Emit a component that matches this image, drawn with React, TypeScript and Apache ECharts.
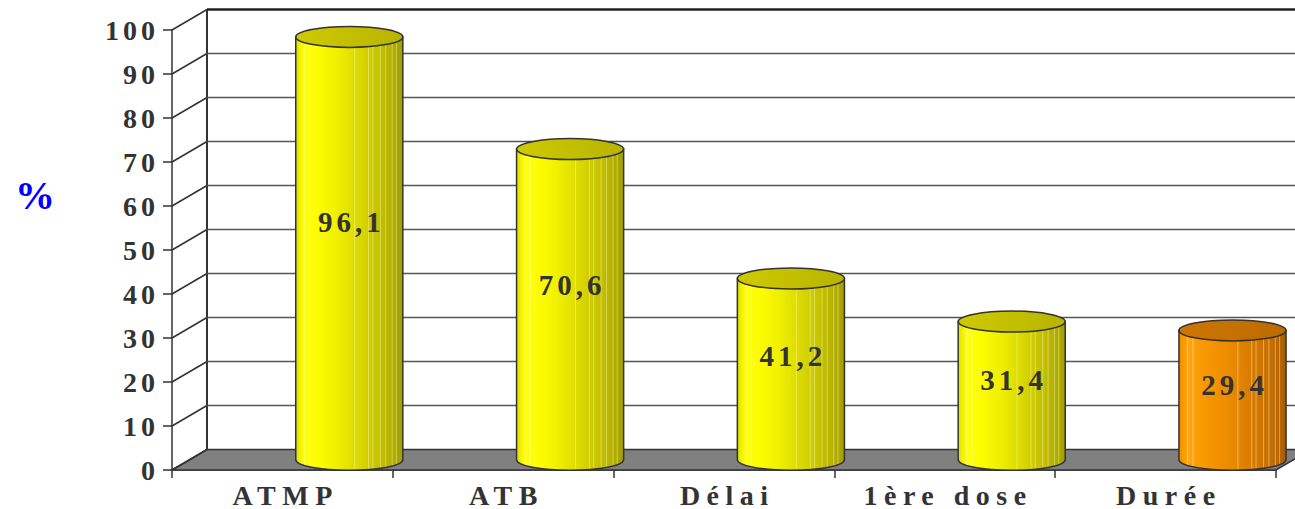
import React, { useEffect, useRef } from "react";
import * as echarts from "echarts";

// ---- data ----
const categories = ["ATMP", "ATB", "Délai", "1ère dose", "Durée"];
const values = [96.1, 70.6, 41.2, 31.4, 29.4];
const accent = [false, false, false, false, true]; // last bar is orange
const yTicks = [0, 10, 20, 30, 40, 50, 60, 70, 80, 90, 100];
const yAxisName = "%";

// ---- 3D look ----
const DX = 35;
const DY = -20.5;
const BAR_SHIFT = 0.303; // fraction of band
const BAR_WIDTH = 0.485; // fraction of band
const RY = 10.5;
const SERIF = '"Liberation Serif", "Times New Roman", serif';

const yellowStops = [
  { offset: 0, color: "#DCDC00" },
  { offset: 0.04, color: "#F2F200" },
  { offset: 0.09, color: "#FFFF10" },
  { offset: 0.22, color: "#FCFC00" },
  { offset: 0.38, color: "#F0F000" },
  { offset: 0.5, color: "#E4E200" },
  { offset: 0.6, color: "#DAD800" },
  { offset: 0.7, color: "#CECB00" },
  { offset: 0.8, color: "#C2BE00" },
  { offset: 0.9, color: "#B4B000" },
  { offset: 1, color: "#A29E00" },
];
const orangeStops = [
  { offset: 0, color: "#EE8E00" },
  { offset: 0.04, color: "#FA9A00" },
  { offset: 0.09, color: "#FFA414" },
  { offset: 0.25, color: "#F89800" },
  { offset: 0.45, color: "#EC8C00" },
  { offset: 0.6, color: "#E08200" },
  { offset: 0.75, color: "#D07600" },
  { offset: 0.9, color: "#C06A00" },
  { offset: 1, color: "#A85C00" },
];
const stripeFractions = [0.08, 0.13, 0.55, 0.68, 0.72, 0.79, 0.84, 0.9, 0.94];

const barLabelText = (v: number) => String(v).replace(".", ",");

export default function App() {
  const ref = useRef<HTMLDivElement>(null);

  useEffect(() => {
    document.body.style.margin = "0";
    const chart = echarts.init(ref.current!, null, { renderer: "svg" });
    const yMax = yTicks[yTicks.length - 1];

    const wallSeries = {
      type: "custom",
      z: 1,
      silent: true,
      data: yTicks.map((t) => [0, t]),
      renderItem: (params: any, api: any) => {
        const cs = params.coordSys;
        const t = api.value(1);
        const y = api.coord([0, t])[1];
        const x0 = cs.x;
        const x1 = cs.x + cs.width;
        const children: any[] = [];
        if (params.dataIndex === 0) {
          children.push({
            type: "polygon",
            shape: {
              points: [
                [x0, y],
                [x1, y],
                [x1 + DX, y + DY],
                [x0 + DX, y + DY],
              ],
            },
            style: { fill: "#808080", stroke: "#333", lineWidth: 1.5 },
          });
          const top = api.coord([0, yMax])[1];
          children.push({
            type: "line",
            shape: { x1: x0 + DX, y1: y + DY, x2: x0 + DX, y2: top + DY },
            style: { stroke: "#333", lineWidth: 2 },
          });
        }
        children.push({
          type: "line",
          shape: { x1: x0, y1: y, x2: x0 + DX, y2: y + DY },
          style: { stroke: "#333", lineWidth: 1.5 },
        });
        if (t > 0) {
          const isTop = t === yMax;
          children.push({
            type: "line",
            shape: { x1: x0 + DX, y1: y + DY, x2: x1 + DX + 60, y2: y + DY },
            style: { stroke: isTop ? "#222" : "#555", lineWidth: isTop ? 2.5 : 1.5 },
          });
        }
        return { type: "group", children };
      },
    };

    const barSeries = {
      type: "custom",
      z: 3,
      silent: true,
      data: values.map((v, i) => [i, v]),
      renderItem: (params: any, api: any) => {
        const i = api.value(0);
        const v = api.value(1);
        const base = api.coord([i, 0]);
        const topP = api.coord([i, v]);
        const band = api.size([1, 0])[0];
        const cx = base[0] + band * BAR_SHIFT;
        const rx = (band * BAR_WIDTH) / 2;
        const by = base[1] + DY / 2;
        const ty = topP[1] + DY / 2;
        const isAccent = accent[i];
        const stops = isAccent ? orangeStops : yellowStops;
        const children: any[] = [];
        children.push({
          type: "path",
          shape: {
            pathData: `M ${cx - rx} ${ty} L ${cx - rx} ${by} A ${rx} ${RY} 0 0 0 ${cx + rx} ${by} L ${cx + rx} ${ty} Z`,
          },
          style: {
            fill: new echarts.graphic.LinearGradient(0, 0, 1, 0, stops),
            stroke: "#333",
            lineWidth: 1.5,
          },
        });
        stripeFractions.forEach((f) => {
          const sx = cx - rx + f * 2 * rx;
          const dyArc = RY * Math.sqrt(Math.max(0, 1 - Math.pow((sx - cx) / rx, 2)));
          children.push({
            type: "line",
            shape: { x1: sx, y1: ty, x2: sx, y2: by + dyArc - 1 },
            style: { stroke: "rgba(255,255,210,0.4)", lineWidth: 1 },
          });
        });
        children.push({
          type: "ellipse",
          shape: { cx, cy: ty, rx, ry: RY },
          style: {
            fill: new echarts.graphic.LinearGradient(0, 0, 1, 0, isAccent
              ? [
                  { offset: 0, color: "#CE7600" },
                  { offset: 1, color: "#BC6A00" },
                ]
              : [
                  { offset: 0, color: "#CECA00" },
                  { offset: 1, color: "#B8B400" },
                ]),
            stroke: "#333",
            lineWidth: 1.5,
          },
        });
        const ly = api.coord([i, v * 0.555])[1] - 13;
        children.push({
          type: "text",
          style: {
            text: barLabelText(v),
            x: cx,
            y: ly,
            align: "center",
            verticalAlign: "middle",
            font: `bold 29px ${SERIF}`,
            fill: "#333",
          },
        });
        return { type: "group", children };
      },
    };

    chart.setOption({
      animation: false,
      grid: { left: 172, top: 30, width: 1104, height: 440, containLabel: false },
      xAxis: {
        type: "category",
        data: categories,
        boundaryGap: true,
        axisLine: { show: true, lineStyle: { color: "#333", width: 1.5 } },
        axisTick: { show: true, length: 8, lineStyle: { color: "#333", width: 1.5 } },
        axisLabel: {
          fontFamily: SERIF,
          fontWeight: "bold",
          fontSize: 28,
          color: "#333",
          margin: 11,
        },
        splitLine: { show: false },
      },
      yAxis: {
        type: "value",
        min: 0,
        max: yMax,
        interval: 10,
        axisLine: { show: true, lineStyle: { color: "#333", width: 1.5 } },
        axisTick: { show: true, length: 9, lineStyle: { color: "#333", width: 1.5 } },
        axisLabel: {
          fontFamily: SERIF,
          fontWeight: "bold",
          fontSize: 28,
          color: "#333",
          margin: 17,
        },
        splitLine: { show: false },
      },
      graphic: [
        {
          type: "text",
          left: 15,
          top: 175,
          style: {
            text: yAxisName,
            font: `bold 40px ${SERIF}`,
            fill: "#0000FF",
          },
        },
      ],
      series: [wallSeries, barSeries],
    });

    // Widen letter spacing like the original (text stays intact)
    const catSet = new Set(categories);
    const tickSet = new Set(yTicks.map(String));
    const barSet = new Set(values.map(barLabelText));
    const applySpacing = () => {
      const root = ref.current;
      if (!root) return;
      root.querySelectorAll("text").forEach((el) => {
        const s = (el.textContent || "").trim();
        let sp = 0;
        if (catSet.has(s)) sp = 6.5;
        else if (barSet.has(s)) sp = 4;
        else if (tickSet.has(s)) sp = 4;
        if (!sp) return;
        el.setAttribute("letter-spacing", sp + "px");
        const anchor = el.getAttribute("text-anchor") || "";
        const styleAnchor = (el.getAttribute("style") || "").includes("end");
        if (anchor === "middle") el.setAttribute("dx", String(sp / 2));
        else if (anchor === "end" || styleAnchor) el.setAttribute("dx", String(sp));
      });
    };
    applySpacing();
    chart.on("finished", applySpacing);

    return () => chart.dispose();
  }, []);

  return <div ref={ref} style={{ width: 1295, height: 509 }} />;
}
